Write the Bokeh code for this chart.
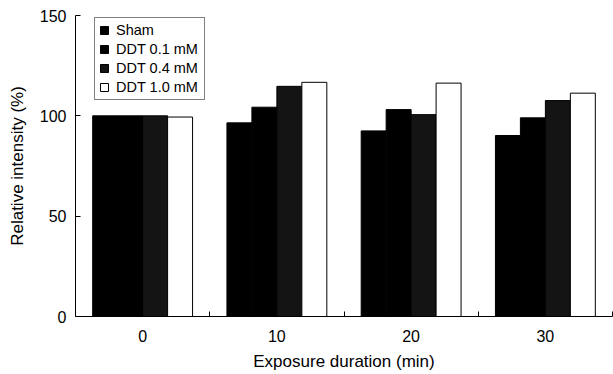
from bokeh.plotting import figure
from bokeh.models import FixedTicker, Legend, LegendItem, Range1d, ColumnDataSource
from bokeh.embed import file_html
from bokeh.resources import INLINE

# ---- data ----
durations = [0, 10, 20, 30]
x_tick_labels = ["0", "10", "20", "30"]
sham = [100, 96.5, 92.5, 90.2]
ddt_01 = [100, 104.3, 103.1, 99.0]
ddt_04 = [100, 114.7, 100.6, 107.6]
ddt_10 = [99.4, 116.7, 116.3, 111.3]
series_names = ["Sham", "DDT 0.1 mM", "DDT 0.4 mM", "DDT 1.0 mM"]
y_ticks = [0, 50, 100, 150]

# ---- style ----
FONT = "Liberation Sans"
fills = ["#000000", "#000000", "#141414", "#ffffff"]
bar_w = 1.86
offsets = [-1.5 * bar_w, -0.5 * bar_w, 0.5 * bar_w, 1.5 * bar_w]

p = figure(width=613, height=374, output_backend="svg", toolbar_location=None,
           x_range=Range1d(-5, 35), y_range=Range1d(0, 150),
           min_border_left=75, min_border_top=15, min_border_right=1,
           min_border_bottom=58)
p.outline_line_color = None
p.xgrid.visible = False
p.ygrid.visible = False
p.background_fill_color = "white"
p.border_fill_color = "white"

renderers = []
for vals, off, col in zip([sham, ddt_01, ddt_04, ddt_10], offsets, fills):
    src = ColumnDataSource(dict(x=[d + off for d in durations], top=vals))
    r = p.vbar(x="x", top="top", bottom=0, width=bar_w, source=src,
               fill_color=col, line_color="black", line_width=1)
    renderers.append(r)

# axes
xa = p.xaxis[0]
xa.ticker = FixedTicker(ticks=durations, minor_ticks=[5, 15, 25, 35])
xa.major_label_overrides = {d: l for d, l in zip(durations, x_tick_labels)}
xa.major_tick_in = 0
xa.major_tick_out = 0
xa.minor_tick_in = 5
xa.minor_tick_out = 0
xa.major_label_standoff = 13
xa.axis_label = "Exposure duration (min)"
xa.axis_label_standoff = 7

ya = p.yaxis[0]
ya.ticker = FixedTicker(ticks=y_ticks)
ya.major_tick_in = 5
ya.major_tick_out = 0
ya.minor_tick_in = 0
ya.minor_tick_out = 0
ya.major_label_standoff = 9
ya.axis_label = "Relative intensity (%)"
ya.axis_label_standoff = 10

for ax in (xa, ya):
    ax.axis_line_color = "black"
    ax.axis_line_width = 1
    ax.major_tick_line_color = "black"
    ax.minor_tick_line_color = "black"
    ax.major_label_text_font = FONT
    ax.major_label_text_font_size = "16px"
    ax.major_label_text_color = "black"
    ax.axis_label_text_font = FONT
    ax.axis_label_text_font_size = "17px"
    ax.axis_label_text_font_style = "normal"
    ax.axis_label_text_color = "black"

legend = Legend(items=[LegendItem(label=n, renderers=[r]) for n, r in zip(series_names, renderers)],
                location=(19, 216))
legend.label_text_font = FONT
legend.label_text_font_size = "14.5px"
legend.label_text_color = "black"
legend.label_height = 16
legend.label_width = 84
legend.glyph_height = 10
legend.glyph_width = 10
legend.spacing = 3
legend.padding = 4
legend.margin = 0
legend.label_standoff = 7
legend.border_line_color = "black"
legend.border_line_width = 1
legend.background_fill_color = "white"
legend.background_fill_alpha = 1
p.add_layout(legend)

open("out.html", "w").write(file_html(p, INLINE))
